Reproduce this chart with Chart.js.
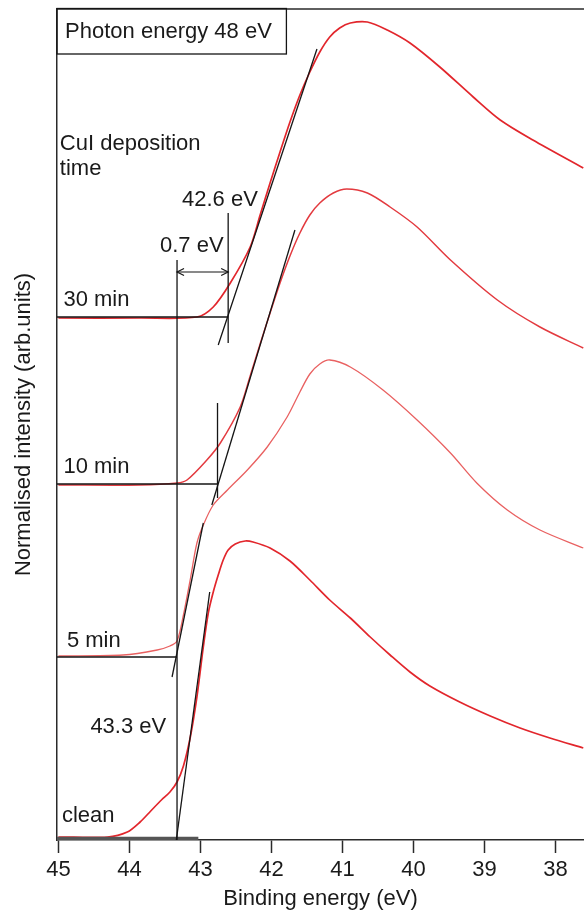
<!DOCTYPE html>
<html><head><meta charset="utf-8">
<script src="https://cdn.jsdelivr.net/npm/chart.js@4/dist/chart.umd.min.js"></script>
<style>html,body{margin:0;padding:0;background:#fff;}canvas{display:block;}</style>
</head><body>
<canvas id="c" width="584" height="913"></canvas>
<script>
// ---- data (binding energy in eV, intensity in arb. units) ----
const energyTicks = [45, 44, 43, 42, 41, 40, 39, 38];

const cleanE = [45.0, 44.31, 44.03, 43.85, 43.70, 43.55, 43.43, 43.33, 43.24, 43.14, 43.05, 42.96, 42.89, 42.82, 42.75, 42.68, 42.61, 42.51, 42.37, 42.26, 42.02, 41.74, 41.46, 41.18, 40.89, 40.61, 40.33, 40.05, 39.77, 39.35, 38.92, 38.50, 38.08, 37.61];
const cleanI = [3, 3, 8, 18, 29, 40, 48, 58, 74, 104, 143, 193, 227, 248, 265, 280, 290, 296, 299, 298, 292, 279, 260, 240, 222, 203, 185, 168, 154, 138, 124, 112, 102, 92];

const min5E = [45.0, 44.09, 43.61, 43.43, 43.33, 43.24, 43.14, 43.05, 42.96, 42.82, 42.62, 42.34, 42.06, 41.78, 41.60, 41.46, 41.32, 41.18, 40.89, 40.43, 39.95, 39.48, 39.11, 38.68, 38.22, 37.61];
const min5I = [184, 185, 190, 194, 199, 225, 262, 297, 315, 335, 350, 370, 393, 423, 448, 466, 476, 480, 473, 450, 420, 387, 357, 330, 310, 292];

const min10E = [45.0, 43.85, 43.33, 43.19, 42.91, 42.72, 42.44, 42.30, 42.16, 42.02, 41.88, 41.74, 41.60, 41.46, 41.32, 41.13, 40.94, 40.65, 40.33, 39.95, 39.48, 38.82, 38.22, 37.61];
const min10I = [355, 355, 357, 360, 380, 397, 433, 464, 496, 527, 557, 584, 607, 625, 637, 647, 651, 647, 633, 613, 580, 540, 513, 492];

const min30E = [45.0, 43.85, 43.05, 42.82, 42.58, 42.30, 42.16, 42.02, 41.88, 41.74, 41.60, 41.46, 41.32, 41.18, 41.04, 40.89, 40.65, 40.37, 40.05, 39.63, 39.16, 38.78, 38.32, 37.61];
const min30I = [522, 522, 523, 533, 557, 593, 625, 657, 688, 718, 745, 768, 788, 803, 812, 817, 818, 810, 797, 773, 743, 720, 700, 672];

// leading-edge tangents
const tan30E = [42.75, 41.36];   const tan30I = [495, 791];
const tan10E = [42.84, 41.67];   const tan10I = [335, 610];
const tan5E  = [43.40, 42.96];   const tan5I  = [163, 317];
const tanCleanE = [43.34, 42.87]; const tanCleanI = [0, 248];

// onset markers
const onsetCleanE = [43.33, 43.33]; const onsetCleanI = [580, 0];
const onset30E = [42.61, 42.61];    const onset30I = [627, 497];
const onset10E = [42.76, 42.76];    const onset10I = [437, 342];

// baselines
const base30E = [45.02, 42.61];  const base30I = [523, 523];
const base10E = [45.02, 42.76];  const base10I = [356, 356];
const base5E  = [45.02, 43.33];  const base5I  = [183, 183];
const baseCleanE = [45.02, 43.03]; const baseCleanI = [1.5, 1.5];

// shift arrow (0.7 eV)
const arrowE = [43.33, 42.61]; const arrowI = [568, 568];

// text annotations (anchored in data units)
const labelTexts = ['Photon energy 48 eV', 'CuI deposition', 'time', '42.6 eV', '0.7 eV', '30 min', '10 min', '5 min', '43.3 eV', 'clean'];
const labelE = [44.906, 44.98, 44.98, 43.26, 43.57, 44.93, 44.93, 44.88, 44.55, 44.95];
const labelI = [808, 696, 671, 640, 594, 540, 373, 199, 113, 24];
const boxE = [45.02, 41.79]; const boxI = [831.5, 786];

// ---- drawing ----
const FONT = '"Liberation Sans", Arial, Helvetica, sans-serif';
const RED = '#e2262c', RED_MID = '#e33a3f', RED_LIGHT = '#e96161', BLACK = '#151515';
function pts(E, I) { return E.map((e, i) => ({ x: e, y: I[i] })); }
function blk(data, w) { return { data, borderColor: BLACK, borderWidth: w || 1.3, tension: 0 }; }

const datasets = [
  blk(pts(tan30E, tan30I)), blk(pts(tan10E, tan10I)), blk(pts(tan5E, tan5I)), blk(pts(tanCleanE, tanCleanI)),
  blk(pts(onsetCleanE, onsetCleanI)), blk(pts(onset30E, onset30I)), blk(pts(onset10E, onset10I)),
  blk(pts(base30E, base30I)), blk(pts(base10E, base10I)), blk(pts(base5E, base5I)),
  { data: pts(baseCleanE, baseCleanI), borderColor: '#555', borderWidth: 3.5 },
  Object.assign(blk(pts(arrowE, arrowI), 1.2), { isArrow: true }),
  { data: pts(min30E, min30I), borderColor: RED, borderWidth: 1.7, tension: 0.3 },
  { data: pts(min10E, min10I), borderColor: RED_MID, borderWidth: 1.5, tension: 0.3 },
  { data: pts(min5E, min5I), borderColor: RED_LIGHT, borderWidth: 1.3, tension: 0.3 },
  { data: pts(cleanE, cleanI), borderColor: RED, borderWidth: 1.7, tension: 0.3 }
];

const annot = {
  id: 'annot',
  afterDatasetsDraw(chart) {
    const { ctx, chartArea: a, scales: { x, y } } = chart;
    ctx.save();
    ctx.strokeStyle = '#2a2a2a'; ctx.lineWidth = 1.5;
    ctx.beginPath(); ctx.moveTo(a.left, a.top); ctx.lineTo(a.right, a.top); ctx.stroke();
    const bx0 = x.getPixelForValue(boxE[0]), bx1 = x.getPixelForValue(boxE[1]);
    const by0 = y.getPixelForValue(boxI[0]), by1 = y.getPixelForValue(boxI[1]);
    ctx.lineWidth = 1.3; ctx.strokeStyle = BLACK;
    ctx.strokeRect(bx0, by0, bx1 - bx0, by1 - by0);
    chart.data.datasets.forEach((ds, i) => {
      if (!ds.isArrow) return;
      const p = chart.getDatasetMeta(i).data;
      [[p[0], p[1]], [p[1], p[0]]].forEach(([tip, other]) => {
        const dx = tip.x - other.x, dy = tip.y - other.y, L = Math.hypot(dx, dy) || 1;
        const ux = dx / L, uy = dy / L, nx = -uy, ny = ux;
        ctx.beginPath();
        ctx.moveTo(tip.x - ux * 7 + nx * 3.5, tip.y - uy * 7 + ny * 3.5);
        ctx.lineTo(tip.x, tip.y);
        ctx.lineTo(tip.x - ux * 7 - nx * 3.5, tip.y - uy * 7 - ny * 3.5);
        ctx.lineWidth = 1.2; ctx.strokeStyle = BLACK; ctx.stroke();
      });
    });
    ctx.fillStyle = '#1a1a1a'; ctx.font = '22px ' + FONT;
    ctx.textAlign = 'left'; ctx.textBaseline = 'middle';
    labelTexts.forEach((t, i) => ctx.fillText(t, x.getPixelForValue(labelE[i]), y.getPixelForValue(labelI[i])));
    ctx.restore();
  }
};

new Chart(document.getElementById('c'), {
  type: 'line',
  data: { datasets },
  plugins: [annot],
  options: {
    responsive: false, animation: false, devicePixelRatio: 1,
    layout: { padding: { top: 9, left: 0, right: 0, bottom: 0 } },
    elements: { point: { radius: 0, hoverRadius: 0 }, line: { fill: false } },
    plugins: { legend: { display: false }, tooltip: { enabled: false } },
    events: [],
    scales: {
      x: {
        type: 'linear', reverse: true, min: 37.6, max: 45.02,
        afterBuildTicks: s => { s.ticks = energyTicks.map(v => ({ value: v })); },
        afterFit: s => { s.height = 73; },
        ticks: { font: { family: FONT, size: 22 }, color: '#1a1a1a', padding: 4, maxRotation: 0, autoSkip: false, callback: v => String(v) },
        grid: { display: true, drawOnChartArea: false, drawTicks: true, tickLength: 13, tickColor: '#2a2a2a', tickWidth: 1.5 },
        border: { display: true, color: '#2a2a2a', width: 1.5 },
        title: { display: true, text: 'Binding energy (eV)', font: { family: FONT, size: 22 }, color: '#1a1a1a', padding: { top: 0, bottom: 1 } }
      },
      y: {
        type: 'linear', min: 0, max: 831,
        afterFit: s => { s.width = 57; },
        ticks: { display: false },
        grid: { display: false },
        border: { display: true, color: '#2a2a2a', width: 1.5 },
        title: { display: true, text: 'Normalised intensity (arb.units)', font: { family: FONT, size: 22 }, color: '#1a1a1a', padding: { top: 11, bottom: 0 } }
      }
    }
  }
});
</script>
</body></html>
